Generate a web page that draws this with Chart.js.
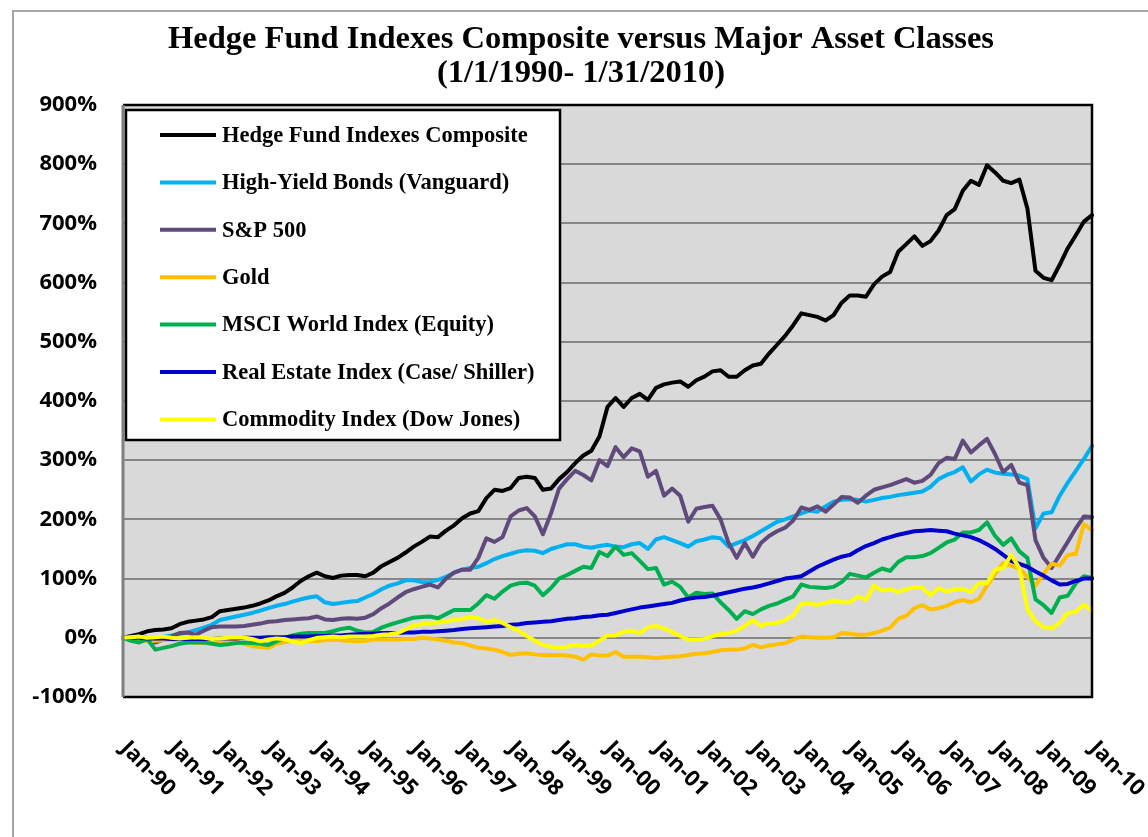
<!DOCTYPE html>
<html>
<head>
<meta charset="utf-8">
<title>Hedge Fund Indexes Composite versus Major Asset Classes</title>
<script src="https://cdn.jsdelivr.net/npm/chart.js@4.4.1/dist/chart.umd.min.js"></script>
<style>
  html, body { margin: 0; padding: 0; background: #fff; }
  canvas { display: block; }
</style>
</head>
<body>
<canvas id="myChart" width="1148" height="837"></canvas>
<script>
// every second month, Jan-90 .. Jan-10, cumulative return in %
let months = ['Jan', 'Mar', 'May', 'Jul', 'Sep', 'Nov'];
let labels = [];
for (let y = 1990; y <= 2009; y++) {
  months.forEach(m => labels.push(m + '-' + String(y).slice(2)));
}
labels.push('Jan-10');

let hedgeFunds = [
  0,3,6,11,13,14, 16,23,27,29,31,35, 45,47,49,51,54,58, 63,70,76,85,96,104,
  110,104,101,105,106,106, 104,110,121,128,135,144, 154,162,171,170,181,190,
  202,210,214,236,250,248, 253,270,272,270,250,252, 268,280,295,308,316,340,
  390,405,390,405,412,402, 422,428,431,433,424,435, 441,450,452,441,441,452,
  460,463,480,495,510,528, 548,545,542,536,545,566, 578,578,576,597,610,618,
  652,665,678,662,670,688, 714,724,755,772,765,798, 786,772,768,774,725,620,
  608,604,630,658,680,703, 714];
let highYield = [
  0,1,2,0,-1,2, 4,7,9,13,17,22, 30,33,36,39,42,46, 50,54,57,61,65,68,
  70,60,57,59,61,62, 68,74,82,88,92,97, 97,94,94,98,103,110,
  115,118,120,126,133,138, 142,146,148,147,143,150, 154,158,158,154,152,155,
  157,154,153,158,160,150, 166,170,165,160,154,163, 166,170,168,154,160,165,
  172,180,188,196,200,205, 210,215,213,222,230,233, 234,233,230,233,236,238,
  241,243,245,247,255,268, 275,280,288,264,276,284, 279,277,276,274,268,185,
  210,212,240,262,282,302, 324];
let sp500 = [
  0,2,0,-3,-8,-3, 2,8,9,5,12,18, 19,19,19,20,22,24, 27,28,30,31,32,33,
  36,31,30,32,33,32, 34,40,50,58,68,77, 82,86,90,85,100,110,
  115,115,135,168,162,170, 205,215,219,205,175,210, 252,268,282,275,266,300,
  290,322,305,320,315,272, 282,240,252,240,196,218, 221,223,200,160,135,160,
  137,160,172,180,186,198, 220,216,222,213,225,238, 237,228,240,250,254,258,
  263,268,262,265,275,295, 304,302,333,313,325,336, 310,280,292,262,258,165,
  135,118,140,162,185,205, 204];
let gold = [
  0,-2,-4,-6,-5,-4, -3,-5,-7,-9,-9,-9, -9,-8,-6,-10,-14,-16, -17,-10,-7,-5,-3,-5,
  -6,-4,-3,-4,-5,-6, -5,-3,-3,-3,-3,-2, -2,0,-1,-3,-5,-8,
  -9,-13,-17,-18,-20,-24, -29,-27,-26,-28,-29,-29, -29,-30,-32,-37,-28,-30,
  -30,-24,-32,-32,-32,-33, -34,-33,-32,-31,-29,-27, -26,-24,-21,-20,-20,-18,
  -12,-16,-13,-11,-9,-3, 2,1,0,0,1,8, 7,5,5,8,12,17,
  32,37,50,55,48,50, 54,60,64,60,66,88, 108,126,122,117,103,88,
  108,125,122,140,142,192, 182];
let msciWorld = [
  0,-5,-8,-2,-20,-17, -14,-10,-8,-8,-8,-10, -12,-11,-9,-8,-9,-10, -12,-6,0,4,7,8,
  8,8,11,15,17,12, 9,10,17,22,26,30, 34,35,36,33,40,47,
  47,47,58,72,66,78, 88,92,93,88,72,84, 100,106,113,120,118,145,
  138,154,140,143,130,116, 118,90,95,86,68,76, 74,75,60,47,32,45,
  40,48,54,58,64,70, 90,86,85,84,86,94, 108,105,102,110,117,113,
  128,136,136,138,143,152, 161,166,178,178,182,195, 172,157,168,146,135,65,
  55,42,68,71,92,104, 101];
let realEstate = [
  0,0,0,-1,-1,-1, -2,-2,-2,-2,-2,-2, -1,-1,-1,0,0,0, 1,1,1,2,2,2,
  3,3,4,4,5,6, 7,7,8,8,8,9, 9,10,10,11,12,13,
  15,16,17,18,19,20, 22,23,25,26,27,28, 30,32,33,35,36,38,
  39,42,45,48,51,53, 55,57,59,63,66,68, 69,71,74,77,80,83,
  85,88,92,96,100,102, 104,112,120,126,132,137, 140,148,155,160,166,170,
  174,177,180,181,182,181, 180,176,173,170,165,158, 150,140,130,125,120,112,
  105,97,90,91,96,100, 100];
let commodity = [
  0,1,2,0,1,2, 0,-1,0,1,0,-2, -1,0,1,0,-2,-6, -3,-1,-2,-6,-9,-4,
  0,1,2,1,2,2, 2,3,5,6,8,14, 21,23,25,26,28,30,
  32,35,33,27,30,25, 18,12,3,-5,-12,-15, -17,-15,-12,-14,-13,-5,
  4,4,10,12,8,18, 20,16,10,3,-3,-3, -2,3,6,8,12,20,
  30,20,25,25,30,38, 57,57,56,59,63,60, 60,70,64,88,80,82,
  77,82,86,84,72,84, 78,82,83,77,92,92, 115,118,140,118,48,28,
  18,16,25,42,44,56, 45];

let seriesNames = ['Hedge Fund Indexes Composite', 'High-Yield Bonds (Vanguard)', 'S&P 500', 'Gold',
  'MSCI World Index (Equity)', 'Real Estate Index (Case/ Shiller)', 'Commodity Index (Dow Jones)'];
let seriesValues = [hedgeFunds, highYield, sp500, gold, msciWorld, realEstate, commodity];
let colorHex = ['#000000', '#00b0f0', '#604a7b', '#ffc000', '#00b050', '#0000cc', '#ffff00'];

// plot background and outer frame
const plotBackground = {
  id: 'plotBackground',
  beforeDraw(chart) {
    const {ctx, chartArea: a} = chart;
    ctx.save();
    ctx.strokeStyle = '#a6a6a6';
    ctx.lineWidth = 2;
    ctx.beginPath();
    ctx.moveTo(13, chart.height);
    ctx.lineTo(13, 11);
    ctx.lineTo(chart.width, 11);
    ctx.stroke();
    ctx.fillStyle = '#d9d9d9';
    ctx.fillRect(a.left, a.top, a.right - a.left, a.bottom - a.top);
    ctx.restore();
  }
};

// border of the plot area
const plotFrame = {
  id: 'plotFrame',
  afterDatasetsDraw(chart) {
    const {ctx, chartArea: a} = chart;
    ctx.save();
    ctx.strokeStyle = '#000';
    ctx.lineWidth = 2.5;
    ctx.beginPath();
    ctx.moveTo(a.left, a.top);
    ctx.lineTo(a.right, a.top);
    ctx.lineTo(a.right, a.bottom);
    ctx.lineTo(a.left, a.bottom);
    ctx.stroke();
    ctx.strokeStyle = '#7f7f7f';
    ctx.lineWidth = 3;
    ctx.beginPath();
    ctx.moveTo(a.left, a.top);
    ctx.lineTo(a.left, a.bottom);
    ctx.stroke();
    ctx.restore();
  }
};

// x labels slanted downwards, one per January
const slantedLabels = {
  id: 'slantedLabels',
  afterDraw(chart) {
    const {ctx} = chart;
    const xs = chart.scales.x;
    ctx.save();
    ctx.font = 'bold 22px "Open Sans"';
    ctx.fillStyle = '#000';
    ctx.textAlign = 'left';
    ctx.textBaseline = 'middle';
    labels.forEach((lab, i) => {
      if (!lab.startsWith('Jan')) return;
      ctx.save();
      ctx.translate(xs.getPixelForValue(i) + 1, chart.chartArea.bottom + 48);
      ctx.rotate(Math.PI / 4);
      ctx.fillText(lab, 0, 0);
      ctx.restore();
    });
    ctx.restore();
  }
};

// boxed legend in the top left of the plot
const boxLegend = {
  id: 'boxLegend',
  afterDraw(chart) {
    const {ctx} = chart;
    ctx.save();
    ctx.fillStyle = '#fff';
    ctx.fillRect(126, 110, 434, 330);
    ctx.strokeStyle = '#000';
    ctx.lineWidth = 2.5;
    ctx.strokeRect(126, 110, 434, 330);
    ctx.font = 'bold 22.5px "Liberation Serif"';
    ctx.textAlign = 'left';
    ctx.textBaseline = 'middle';
    chart.data.datasets.forEach((ds, i) => {
      const y = 135 + i * 47.4;
      ctx.strokeStyle = ds.borderColor;
      ctx.lineWidth = 4;
      ctx.beginPath();
      ctx.moveTo(160, y);
      ctx.lineTo(216, y);
      ctx.stroke();
      ctx.fillStyle = '#000';
      ctx.fillText(ds.label, 222, y + 1);
    });
    ctx.restore();
  }
};

let ctx = document.getElementById('myChart').getContext('2d');

let myChart = new Chart(ctx, {
  type: 'line',
  data: {
    labels: labels,
    datasets: seriesValues.map((vals, i) => ({
      label: seriesNames[i],
      data: vals,
      borderColor: colorHex[i],
      backgroundColor: colorHex[i],
      borderWidth: 4,
      pointRadius: 0,
      tension: 0,
      borderJoinStyle: 'round',
      borderCapStyle: 'round',
      order: seriesValues.length - 1 - i
    }))
  },
  plugins: [plotBackground, plotFrame, slantedLabels, boxLegend],
  options: {
    responsive: false,
    animation: false,
    devicePixelRatio: 1,
    layout: {
      padding: { top: 10, left: 14, right: 0, bottom: 140 }
    },
    scales: {
      x: {
        display: false,
        offset: false
      },
      y: {
        min: -100,
        max: 900,
        afterFit: (scale) => { scale.width = 109; },
        border: { display: false },
        grid: {
          color: '#868686',
          lineWidth: 2,
          drawTicks: false
        },
        ticks: {
          stepSize: 100,
          padding: 26,
          color: '#000',
          font: { family: '"Open Sans"', size: 22, weight: 'bold' },
          callback: (value) => value + '%'
        }
      },
      // empty right-hand margin so the plot stops where the reference does
      yRight: {
        position: 'right',
        afterFit: (scale) => { scale.width = 56; },
        grid: { display: false },
        border: { display: false },
        ticks: { display: false }
      }
    },
    plugins: {
      legend: { display: false },
      tooltip: { enabled: false },
      title: {
        display: true,
        text: ['Hedge Fund Indexes Composite versus Major Asset Classes', '(1/1/1990- 1/31/2010)'],
        color: '#000',
        font: { family: '"Liberation Serif"', size: 32.5, weight: 'bold', lineHeight: 1.03 },
        padding: { top: 13, bottom: 15 }
      }
    }
  }
});
</script>
</body>
</html>
